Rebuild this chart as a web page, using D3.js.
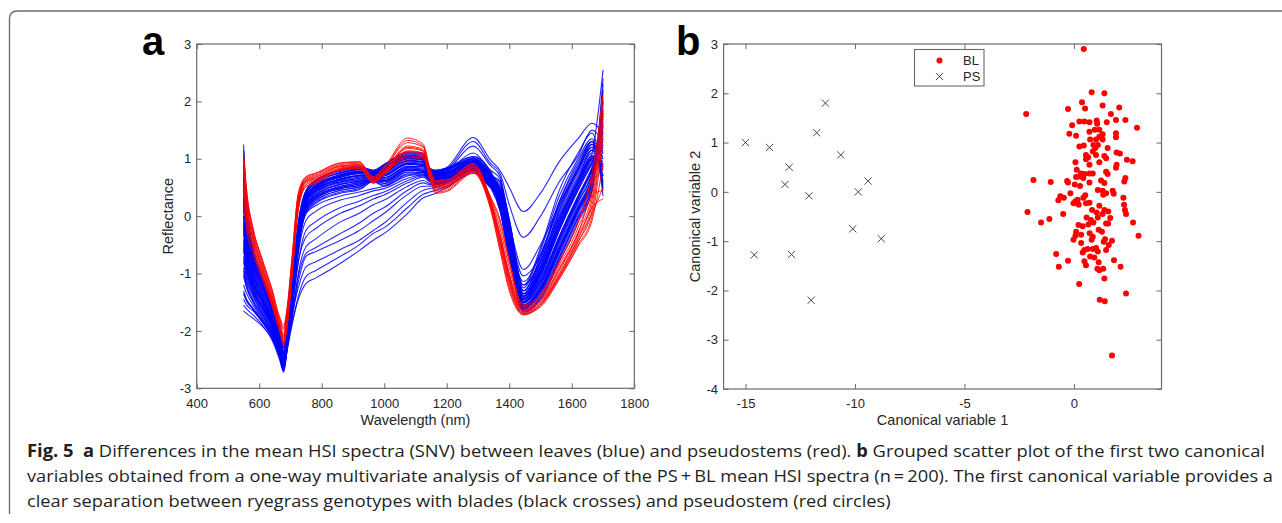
<!DOCTYPE html>
<html><head><meta charset="utf-8">
<script src="https://cdn.jsdelivr.net/npm/d3@7"></script>
<style>
html,body{margin:0;padding:0;background:#fff;}
svg{display:block;}
</style></head>
<body>
<svg id="fig" width="1282" height="523"></svg>
<script>
// ---------------- DATA ----------------
const wavelengths = [550,560,580,610,640,665,678,690,705,725,750,780,860,920,965,1000,1075,1125,1145,1165,1200,1285,1340,1370,1400,1445,1500,1560,1620,1665,1700];

// leaves (blue) SNV spectra
const blueSpectra = [
 [1.25,0.25,-0.55,-1.05,-1.45,-1.95,-2.2,-1.8,-1.15,-0.1, 0.45,0.62,0.8,0.86,0.8,0.9,1.1,1.08,0.82,0.78, 0.82,1.02,0.78,0.45,-0.3,-1.6,-1.3,-0.6,0.1,0.6, 1.6],
 [0.9,0.05,-0.7,-1.15,-1.55,-2.05,-2.3,-1.9,-1.25,-0.2, 0.4,0.57,0.75,0.81,0.77,0.86,1.06,1.04,0.8,0.74, 0.77,0.97,0.72,0.35,-0.45,-1.65,-1.4,-0.75,-0.05,0.45, 2.2],
 [0.6,-0.15,-0.8,-1.25,-1.6,-2.1,-2.38,-1.95,-1.3,-0.25, 0.35,0.52,0.7,0.76,0.75,0.82,1.02,1.0,0.78,0.7, 0.72,0.92,0.66,0.3,-0.5,-1.55,-1.25,-0.5,0.2,0.7, 1.9],
 [0.3,-0.35,-0.95,-1.35,-1.7,-2.15,-2.42,-2.0,-1.35,-0.3, 0.3,0.47,0.65,0.71,0.72,0.77,0.97,0.95,0.76,0.72, 0.76,0.96,0.7,0.4,-0.35,-1.5,-1.1,-0.35,0.35,0.85, 1.5],
 [0.0,-0.55,-1.1,-1.45,-1.8,-2.2,-2.48,-2.05,-1.4,-0.35, 0.25,0.42,0.6,0.66,0.7,0.72,0.92,0.9,0.72,0.65, 0.68,0.87,0.6,0.25,-0.55,-1.45,-1.0,-0.2,0.5,0.95, 1.2],
 [-0.3,-0.75,-1.2,-1.5,-1.85,-2.25,-2.52,-2.1,-1.45,-0.4, 0.2,0.37,0.55,0.61,0.67,0.67,0.87,0.86,0.7,0.68, 0.72,0.92,0.66,0.5,-0.2,-1.4,-0.9,-0.05,0.65,1.05, 1.0],
 [-0.6,-0.95,-1.3,-1.6,-1.9,-2.3,-2.56,-2.15,-1.5,-0.45, 0.15,0.32,0.5,0.56,0.65,0.62,0.82,0.8,0.66,0.62, 0.64,0.84,0.55,0.3,-0.4,-1.35,-0.85,0.05,0.75,1.15, 0.7],
 [-0.9,-1.15,-1.4,-1.7,-2.0,-2.35,-2.6,-2.2,-1.55,-0.5, 0.1,0.27,0.45,0.51,0.62,0.57,0.77,0.76,0.64,0.6, 0.62,0.82,0.52,0.2,-0.6,-1.3,-0.75,0.2,0.85,1.25, 0.5],
 [-1.2,-1.35,-1.55,-1.8,-2.05,-2.4,-2.65,-2.25,-1.6,-0.55, 0.05,0.22,0.4,0.46,0.6,0.52,0.72,0.72,0.62,0.58, 0.6,0.8,0.5,0.45,-0.1,-1.25,-0.6,0.35,1.0,1.35, 0.35],
 [-1.45,-1.55,-1.65,-1.85,-2.1,-2.45,-2.7,-2.3,-1.65,-0.6, 0.1,0.3,0.48,0.54,0.64,0.6,0.8,0.78,0.66,0.64, 0.67,0.88,0.6,0.35,-0.3,-1.2,-0.55,0.45,1.1,1.45, 0.6],
 [-1.65,-1.7,-1.78,-1.92,-2.12,-2.42,-2.62,-2.2,-1.5,-0.4, 0.3,0.47,0.65,0.71,0.72,0.77,0.97,0.95,0.78,0.76, 0.8,1.0,0.72,0.42,-0.4,-1.55,-1.2,-0.45,0.25,0.75, 1.75],
 [0.75,-0.05,-0.75,-1.2,-1.6,-2.1,-2.35,-1.95,-1.3,-0.3, 0.17,0.34,0.52,0.58,0.66,0.64,0.84,0.82,0.68,0.68, 0.72,0.92,0.62,0.15,-0.7,-1.6,-1.3,-0.65,0.05,0.55, 2.0],
 [0.45,-0.25,-0.88,-1.3,-1.65,-2.12,-2.4,-1.98,-1.32,-0.25, 0.43,0.6,0.78,0.84,0.79,0.9,1.1,1.08,0.82,0.8, 0.84,1.04,0.75,0.3,-0.6,-1.68,-1.45,-0.8,-0.1,0.45, 2.3],
 [-0.15,-0.65,-1.15,-1.48,-1.82,-2.22,-2.5,-2.08,-1.42,-0.35, 0.37,0.54,0.72,0.78,0.76,0.84,1.04,1.02,0.78,0.68, 0.7,0.9,0.62,0.2,-0.55,-1.5,-1.15,-0.4,0.3,0.8, 1.35],
 [-0.45,-0.85,-1.25,-1.55,-1.88,-2.28,-2.55,-2.12,-1.45,-0.4, 0.33,0.5,0.68,0.74,0.74,0.8,1.0,0.98,0.76,0.7, 0.72,0.92,0.68,0.55,-0.15,-1.42,-0.95,-0.1,0.6,1.0, 0.9],
 [-0.75,-1.05,-1.35,-1.65,-1.95,-2.32,-2.58,-2.18,-1.5,-0.45, 0.23,0.4,0.58,0.64,0.69,0.7,0.9,0.88,0.72,0.72, 0.76,0.96,0.7,0.6,-0.05,-1.35,-0.8,0.1,0.8,1.2, 0.8],
 [-1.05,-1.25,-1.48,-1.75,-2.02,-2.38,-2.62,-2.2,-1.55,-0.5, 0.27,0.44,0.62,0.68,0.71,0.74,0.94,0.92,0.72,0.64, 0.66,0.86,0.58,0.4,-0.25,-1.3,-0.7,0.25,0.95,1.3, 0.45],
 [1.05,0.15,-0.62,-1.1,-1.5,-2.0,-2.25,-1.85,-1.2,-0.3, 0.1,0.27,0.45,0.51,0.62,0.57,0.77,0.76,0.64,0.62, 0.64,0.84,0.55,0.1,-0.75,-1.62,-1.35,-0.7,0.0,0.5, 2.4],
 [0.15,-0.45,-1.0,-1.4,-1.75,-2.18,-2.45,-2.02,-1.38,-0.4, 0.07,0.24,0.42,0.48,0.61,0.54,0.74,0.74,0.62,0.6, 0.62,0.82,0.5,0.3,-0.45,-1.45,-1.05,-0.25,0.45,0.9, 1.1],
 [-1.55,-1.62,-1.72,-1.9,-2.15,-2.5,-2.72,-2.28,-1.6,-0.5, 0.4,0.57,0.75,0.81,0.77,0.86,1.06,1.04,0.8,0.78, 0.8,1.0,0.7,0.3,-0.55,-1.6,-1.3,-0.55,0.15,0.7, 1.7],
 [1.15,0.2,-0.58,-1.08,-1.48,-1.98,-2.22,-1.82,-1.18,-0.15, 0.37,0.54,0.72,0.78,0.76,0.84,1.04,1.02,0.8,0.76, 0.8,0.98,0.72,0.38,-0.4,-1.58,-1.28,-0.58,0.12,0.62, 1.65],
 [0.35,-0.3,-0.92,-1.33,-1.68,-2.14,-2.42,-2.0,-1.35,-0.32, 0.25,0.42,0.6,0.66,0.7,0.72,0.92,0.9,0.74,0.7, 0.74,0.94,0.66,0.32,-0.45,-1.52,-1.15,-0.38,0.32,0.82, 1.55],
 [-0.25,-0.72,-1.18,-1.5,-1.84,-2.24,-2.5,-2.08,-1.42,-0.35, 0.41,0.58,0.76,0.82,0.78,0.88,1.08,1.06,0.8,0.78, 0.82,1.0,0.72,0.28,-0.55,-1.62,-1.35,-0.62,0.08,0.6, 1.85],
 [-0.95,-1.2,-1.45,-1.72,-2.02,-2.38,-2.62,-2.2,-1.52,-0.45, 0.33,0.5,0.68,0.74,0.74,0.8,1.0,0.98,0.75,0.67, 0.69,0.89,0.6,0.35,-0.3,-1.4,-0.95,-0.12,0.6,1.02, 1.05],
 [0.65,-0.1,-0.78,-1.22,-1.6,-2.08,-2.36,-1.96,-1.32,-0.32, 0.2,0.37,0.55,0.61,0.67,0.67,0.87,0.86,0.7,0.66, 0.68,0.88,0.6,0.22,-0.6,-1.58,-1.25,-0.55,0.15,0.65, 1.8],
 [-0.55,-0.92,-1.28,-1.58,-1.9,-2.3,-2.56,-2.14,-1.48,-0.42, 0.29,0.46,0.64,0.7,0.72,0.76,0.96,0.94,0.75,0.73, 0.75,0.95,0.68,0.42,-0.35,-1.48,-1.05,-0.25,0.45,0.92, 1.25],
 [-1.35,-1.48,-1.62,-1.84,-2.1,-2.45,-2.68,-2.26,-1.58,-0.5, 0.35,0.52,0.7,0.76,0.75,0.82,1.02,1.0,0.77,0.75, 0.77,0.97,0.7,0.48,-0.25,-1.45,-1.0,-0.18,0.55,1.0, 1.15],
 [0.0,-0.58,-1.12,-1.46,-1.8,-2.2,-2.47,-2.05,-1.4,-0.38, 0.15,0.32,0.5,0.56,0.64,0.62,0.82,0.8,0.68,0.7, 0.72,0.92,0.64,0.46,-0.25,-1.38,-0.88,0.0,0.7,1.1, 0.85],
 [0.95,0.1,-0.68,-1.15,-1.55,-2.05,-2.28,-1.88,-1.22,-0.12, 0.45,0.62,0.8,0.86,0.8,0.9,1.12,1.1,0.84,0.8, 0.84,1.04,0.76,0.32,-0.55,-1.66,-1.42,-0.72,-0.02,0.5, 2.05],
 [-0.4,-0.82,-1.24,-1.55,-1.88,-2.28,-2.54,-2.12,-1.46,-0.42, 0.13,0.3,0.48,0.54,0.63,0.6,0.8,0.78,0.66,0.64, 0.66,0.86,0.56,0.28,-0.5,-1.44,-1.0,-0.2,0.5,0.98, 1.0],
 [0.5,-0.2,-0.85,-1.3,-1.65,-2.1,-2.4,-2.05,-1.5,-0.55, 0.05,0.18,0.35,0.42,0.48,0.52,0.7,0.76,0.66,0.6, 0.64,0.88,0.6,0.3,-0.5,-1.5,-1.15,-0.4,0.3,0.8, 1.25],
 [-0.2,-0.7,-1.18,-1.5,-1.85,-2.25,-2.52,-2.15,-1.6,-0.65, -0.07,0.08,0.28,0.36,0.44,0.48,0.66,0.72,0.64,0.58, 0.62,0.85,0.55,0.2,-0.6,-1.55,-1.2,-0.45,0.25,0.75, 1.45],
 [-0.8,-1.1,-1.38,-1.68,-1.98,-2.35,-2.6,-2.2,-1.65,-0.8, -0.24,-0.1,0.15,0.26,0.36,0.42,0.62,0.7,0.62,0.58, 0.62,0.84,0.58,0.45,-0.2,-1.4,-0.95,-0.15,0.55,1.0, 0.85],
 [0.9,0.1,-0.65,-1.15,-1.55,-2.05,-2.35,-2.0,-1.55,-0.8, -0.36,-0.22,0.05,0.18,0.3,0.37,0.58,0.68,0.6,0.57, 0.6,0.82,0.5,0.1,-0.7,-1.6,-1.3,-0.6,0.1,0.6, 1.8],
 [-1.3,-1.45,-1.6,-1.82,-2.08,-2.42,-2.66,-2.3,-1.8,-1.0, -0.53,-0.4,-0.1,0.05,0.2,0.28,0.52,0.62,0.57,0.55, 0.6,0.8,0.55,0.5,-0.05,-1.3,-0.7,0.25,0.9,1.3, 0.55],
 [0.1,-0.5,-1.05,-1.42,-1.78,-2.2,-2.5,-2.15,-1.7,-1.05, -0.65,-0.55,-0.3,-0.12,0.05,0.15,0.45,0.58,0.55,0.55, 0.6,0.86,0.62,0.35,-0.4,-1.45,-1.0,-0.2,0.5,0.95, 1.15],
 [-0.5,-0.9,-1.3,-1.6,-1.92,-2.3,-2.58,-2.22,-1.78,-1.15, -0.7,-0.62,-0.42,-0.25,-0.08,0.05,0.38,0.52,0.52,0.52, 0.58,0.84,0.6,0.4,-0.3,-1.4,-0.9,-0.1,0.6,1.05, 0.95],
 [1.1,0.2,-0.6,-1.1,-1.5,-2.0,-2.3,-2.0,-1.7,-1.25, -0.88,-0.8,-0.58,-0.42,-0.25,-0.12,0.25,0.45,0.48,0.5, 0.56,0.8,0.52,0.15,-0.65,-1.58,-1.25,-0.55,0.15,0.65, 2.0],
 [-1.0,-1.25,-1.5,-1.78,-2.05,-2.4,-2.65,-2.32,-1.9,-1.4, -1.05,-0.95,-0.7,-0.5,-0.3,-0.2,0.15,0.38,0.42,0.45, 0.52,0.78,0.55,0.42,-0.15,-1.35,-0.8,0.1,0.8,1.2, 0.7],
 [0.3,-0.35,-0.98,-1.38,-1.72,-2.15,-2.45,-2.15,-1.85,-1.45, -1.17,-1.08,-0.82,-0.6,-0.42,-0.3,0.05,0.32,0.36,0.4, 0.5,0.75,0.5,0.25,-0.5,-1.5,-1.1,-0.35,0.35,0.85, 1.3],
 [0.7,0.0,-0.7,-1.2,-1.6,-2.05,-2.35,-1.95,-1.3,-0.3, 0.3,0.48,0.68,0.75,0.72,0.8,1.0,0.98,0.78,0.78, 0.85,1.37,0.98,0.8,0.5,0.08,0.4,0.95,1.35,1.62, 1.45],
 [-0.1,-0.62,-1.12,-1.48,-1.82,-2.22,-2.5,-2.08,-1.42,-0.38, 0.28,0.45,0.63,0.7,0.7,0.76,0.96,0.94,0.76,0.76, 0.82,1.3,0.92,0.75,0.2,-0.37,0.0,0.6,1.05,1.5, 1.3],
 [-0.7,-1.0,-1.32,-1.62,-1.95,-2.32,-2.58,-2.18,-1.5,-0.45, 0.22,0.38,0.56,0.63,0.67,0.7,0.9,0.88,0.72,0.74, 0.8,1.22,0.88,0.7,-0.1,-0.93,-0.5,0.2,0.8,1.25, 1.0],
 [0.2,-0.42,-1.02,-1.42,-1.76,-2.18,-2.46,-2.04,-1.38,-0.35, 0.32,0.5,0.7,0.76,0.74,0.82,1.02,1.0,0.78,0.72, 0.78,1.1,0.8,0.65,-0.2,-1.04,-0.7,0.0,0.65,1.15, 0.9],
 [-1.35,-1.48,-1.62,-1.84,-2.1,-2.45,-2.68,-2.25,-1.58,-0.5, 0.18,0.35,0.52,0.59,0.65,0.66,0.85,0.84,0.7,0.66, 0.7,0.95,0.72,0.6,-0.3,-1.14,-0.65,0.15,0.85,1.3, 1.1],
 [0.55,-0.15,-0.82,-1.25,-1.62,-2.08,-2.38,-1.98,-1.32,-0.3, 0.36,0.53,0.72,0.78,0.75,0.84,1.04,1.02,0.8,0.7, 0.74,1.0,0.7,0.5,-0.35,-1.2,-0.8,-0.05,0.6,1.1, 2.55]
];

// pseudostems (red) SNV spectra
const redSpectra = [
 [1.1,0.45,-0.2,-0.75,-1.25,-1.75,-1.9,-1.55,-0.7,0.4, 0.69,0.75,0.93,0.95,0.69,0.86,1.36,1.25,0.85,0.6, 0.62,0.9,0.32,-0.1,-0.8,-1.55,-1.35,-0.78,-0.1,0.75, 2.1],
 [1.0,0.38,-0.25,-0.8,-1.3,-1.8,-1.98,-1.62,-0.78,0.35, 0.66,0.72,0.9,0.92,0.67,0.83,1.28,1.2,0.82,0.58, 0.6,0.88,0.3,-0.2,-0.9,-1.6,-1.4,-0.85,-0.2,0.55, 2.14],
 [0.95,0.32,-0.3,-0.85,-1.35,-1.85,-2.05,-1.7,-0.85,0.3, 0.64,0.7,0.88,0.9,0.65,0.8,1.22,1.16,0.78,0.55, 0.58,0.86,0.28,-0.3,-1.0,-1.63,-1.45,-0.9,-0.28,0.4, 1.95],
 [0.9,0.28,-0.33,-0.88,-1.38,-1.88,-2.1,-1.75,-0.9,0.25, 0.62,0.67,0.86,0.88,0.63,0.78,1.18,1.13,0.76,0.52, 0.55,0.84,0.25,-0.35,-1.05,-1.65,-1.48,-0.95,-0.33,0.3, 1.85],
 [0.85,0.22,-0.38,-0.92,-1.42,-1.9,-2.15,-1.8,-0.95,0.2, 0.6,0.65,0.84,0.87,0.62,0.77,1.14,1.1,0.74,0.5, 0.53,0.82,0.22,-0.4,-1.1,-1.67,-1.5,-1.0,-0.38,0.2, 1.75],
 [0.75,0.15,-0.42,-0.95,-1.45,-1.92,-2.2,-1.85,-1.0,0.15, 0.57,0.62,0.82,0.85,0.6,0.75,1.1,1.08,0.72,0.47, 0.5,0.8,0.2,-0.45,-1.15,-1.7,-1.53,-1.05,-0.45,0.1, 1.6],
 [0.6,0.05,-0.48,-1.0,-1.5,-1.95,-2.25,-1.9,-1.05,0.1, 0.55,0.6,0.8,0.83,0.58,0.73,1.05,1.04,0.7,0.45, 0.48,0.78,0.18,-0.5,-1.2,-1.72,-1.56,-1.08,-0.5,0.0, 1.4],
 [0.4,-0.1,-0.55,-1.05,-1.52,-1.97,-2.22,-1.88,-1.02,0.12, 0.52,0.58,0.8,0.84,0.57,0.74,1.02,1.02,0.68,0.42, 0.45,0.76,0.15,-0.55,-1.25,-1.7,-1.58,-1.1,-0.53,-0.07, 0.9],
 [0.2,-0.25,-0.65,-1.1,-1.55,-2.0,-2.18,-1.82,-0.98,0.18, 0.51,0.57,0.81,0.85,0.59,0.76,0.98,1.0,0.66,0.4, 0.43,0.75,0.12,-0.6,-1.3,-1.72,-1.55,-1.05,-0.45,0.05, 0.5],
 [1.05,0.4,-0.22,-0.78,-1.28,-1.78,-1.95,-1.6,-0.75,0.38, 0.68,0.74,0.92,0.94,0.68,0.84,1.32,1.22,0.84,0.62, 0.63,0.92,0.34,-0.05,-0.76,-1.58,-1.38,-0.8,-0.12,0.65, 1.2],
 [0.8,0.2,-0.4,-0.93,-1.43,-1.9,-2.12,-1.78,-0.92,0.22, 0.6,0.64,0.83,0.86,0.61,0.76,1.12,1.09,0.73,0.49, 0.52,0.8,0.2,-0.42,-1.12,-1.69,-1.52,-1.02,-0.4,0.15, 0.3],
 [0.5,-0.05,-0.52,-1.02,-1.5,-1.95,-2.08,-1.72,-0.88,0.28, 0.63,0.68,0.87,0.89,0.64,0.79,1.2,1.14,0.77,0.53, 0.56,0.85,0.26,-0.32,-1.02,-1.64,-1.47,-0.93,-0.3,0.35, 0.45]
];

// panel b: PS (black crosses)
const psCv1 = [-15.0,-13.9,-13.0,-13.2,-11.35,-11.75,-12.1,-10.65,-9.4,-9.85,-10.1,-8.8,-14.6,-12.9,-12.0];
const psCv2 = [1.0,0.9,0.5,0.15,1.8,1.2,-0.08,0.75,0.22,0.0,-0.75,-0.95,-1.28,-1.27,-2.2];
// panel b: BL (red circles)
const blCv1 = [0.45,0.81,1.39,0.37,1.31,-2.18,-0.27,0.51,1.69,2.07,0.25,0.48,0.71,1.04,1.06,1.50,1.92,2.35,-0.08,2.88,
 -0.21,0.10,0.71,0.95,1.16,1.31,1.92,1.92,0.74,1.01,1.16,1.31,0.89,1.09,0.25,0.45,0.98,1.54,0.86,1.01,
 1.95,2.10,0.55,0.65,0.55,1.39,1.47,1.16,0.07,2.42,2.68,1.95,1.92,0.71,0.13,0.33,0.48,0.71,0.86,0.25,
 0.10,0.43,1.47,1.54,1.24,1.39,-0.31,-0.27,0.04,0.28,0.71,2.35,2.30,-1.85,-1.06,1.09,1.31,1.34,1.47,1.77,
 1.82,-0.16,-0.62,-0.46,-0.71,0.52,0.43,0.17,0.07,-0.02,0.22,0.55,0.71,2.26,2.29,2.33,2.38,1.16,1.39,1.57,
 1.31,0.83,1.04,-2.12,-0.49,-1.50,-1.12,0.58,0.78,1.09,1.66,1.47,2.70,0.21,0.40,0.66,0.89,1.13,1.28,1.56,
 2.95,0.10,0.07,0.33,0.72,0.86,-0.02,0.33,0.81,1.42,1.36,1.74,1.59,1.47,0.48,0.63,0.86,1.01,1.09,0.40,
 -0.81,0.74,0.93,-0.27,0.48,0.55,1.13,1.83,-0.69,1.07,1.16,1.34,2.13,1.39,0.24,2.38,1.18,1.41,1.74];
const blCv2 = [2.90,2.02,2.00,1.82,1.75,1.58,1.68,1.69,1.58,1.71,1.43,1.43,1.41,1.45,1.38,1.41,1.46,1.46,1.35,1.30,
 1.18,1.14,1.22,1.26,1.26,1.17,1.19,1.11,1.06,1.06,1.12,1.06,0.95,0.95,0.92,0.94,0.89,0.89,0.82,0.75,
 0.80,0.78,0.75,0.70,0.66,0.73,0.68,0.60,0.60,0.65,0.62,0.55,0.49,0.55,0.45,0.37,0.36,0.37,0.37,0.31,
 0.30,0.28,0.41,0.36,0.23,0.18,0.22,0.19,0.15,0.12,0.19,0.28,0.21,0.24,0.20,0.04,0.02,-0.06,-0.03,0.02,
 -0.04,-0.03,-0.09,-0.12,-0.17,-0.07,-0.12,-0.16,-0.19,-0.23,-0.26,-0.23,-0.22,-0.12,-0.26,-0.37,-0.45,-0.28,-0.37,-0.40,
 -0.45,-0.37,-0.42,-0.41,-0.45,-0.62,-0.55,-0.52,-0.57,-0.52,-0.53,-0.64,-0.62,-0.67,-0.70,-0.66,-0.62,-0.77,-0.81,-0.64,
 -0.89,-0.81,-0.89,-0.87,-0.84,-0.91,-0.97,-1.04,-0.97,-0.96,-1.01,-0.99,-1.08,-1.18,-1.18,-1.16,-1.16,-1.14,-1.21,-1.23,
 -1.26,-1.31,-1.33,-1.40,-1.41,-1.49,-1.43,-1.39,-1.52,-1.56,-1.59,-1.56,-1.52,-1.76,-1.87,-2.06,-2.19,-2.22,-3.32];

const aXTicks = [400,600,800,1000,1200,1400,1600,1800];
const aYTicks = [-3,-2,-1,0,1,2,3];
const bXTicks = [-15,-10,-5,0];
const bYTicks = [-4,-3,-2,-1,0,1,2,3];
const legendLabels = ["BL","PS"];
const captionLines = [
 [["Fig. 5",true],["  ",false],["a",true],[" Differences in the mean HSI spectra (SNV) between leaves (blue) and pseudostems (red). ",false],["b",true],[" Grouped scatter plot of the first two canonical",false]],
 [["variables obtained from a one-way multivariate analysis of variance of the PS\u2009+\u2009BL mean HSI spectra (n\u2009=\u2009200). The first canonical variable provides a",false]],
 [["clear separation between ryegrass genotypes with blades (black crosses) and pseudostem (red circles)",false]]
];

// ---------------- DRAW ----------------
const svg = d3.select("#fig");
const TXT = "#262626", BOX = "#6a6a6a";
const tickFont = "'Liberation Sans', Arial, sans-serif";
const fmt = d => String(d);

// frame
svg.append("path")
  .attr("d","M9.5,514 V19 Q9.5,11 17.5,11 H1282")
  .attr("fill","none").attr("stroke","#6e6e6e").attr("stroke-width",1.4);

function makeAxes(g, x, y, xt, yt, x0, x1, y0, y1) {
  const axis = (a, tr, keep) => {
    const gg = g.append("g").attr("transform", tr).call(a);
    gg.select(".domain").remove();
    gg.selectAll("line").attr("stroke", BOX).attr("stroke-width", 1);
    gg.selectAll("text").attr("fill", TXT).style("font-family", tickFont).style("font-size","13px");
    if (!keep) gg.selectAll("text").remove();
    return gg;
  };
  axis(d3.axisBottom(x).tickValues(xt).tickSize(-5).tickPadding(10).tickFormat(fmt), `translate(0,${y1})`, true);
  axis(d3.axisTop(x).tickValues(xt).tickSize(-5), `translate(0,${y0})`, false);
  axis(d3.axisLeft(y).tickValues(yt).tickSize(-5).tickPadding(5.5).tickFormat(fmt), `translate(${x0},0)`, true);
  axis(d3.axisRight(y).tickValues(yt).tickSize(-5), `translate(${x1},0)`, false);
  g.append("rect").attr("x", x0).attr("y", y0).attr("width", x1 - x0).attr("height", y1 - y0)
    .attr("fill","none").attr("stroke", BOX).attr("stroke-width", 1.2);
}

// ---- panel a ----
const A = {x0:196.7, x1:634.3, y0:44, y1:388.3};
const ax = d3.scaleLinear().domain([400,1800]).range([A.x0, A.x1]);
const ay = d3.scaleLinear().domain([-3,3]).range([A.y1, A.y0]);
const ga = svg.append("g");
const line = d3.line().x(d => ax(d[0])).y(d => ay(d[1])).curve(d3.curveMonotoneX);
const gLines = ga.append("g").attr("fill","none");
gLines.selectAll("path.blue").data(blueSpectra).join("path").attr("class","blue")
  .attr("d", r => line(d3.zip(wavelengths, r))).attr("stroke","#0000ff").attr("stroke-width",1.1).attr("stroke-opacity",0.85);
gLines.selectAll("path.red").data(redSpectra).join("path").attr("class","red")
  .attr("d", r => line(d3.zip(wavelengths, r))).attr("stroke","#ff0000").attr("stroke-width",1).attr("stroke-opacity",0.85);
makeAxes(ga, ax, ay, aXTicks, aYTicks, A.x0, A.x1, A.y0, A.y1);
ga.append("text").attr("x",(A.x0+A.x1)/2).attr("y",424.5).attr("text-anchor","middle")
  .attr("fill",TXT).style("font-family",tickFont).style("font-size","14.5px").text("Wavelength (nm)");
ga.append("text").attr("transform",`translate(173,${(A.y0+A.y1)/2}) rotate(-90)`).attr("text-anchor","middle")
  .attr("fill",TXT).style("font-family",tickFont).style("font-size","14.5px").text("Reflectance");
ga.append("text").attr("x",142).attr("y",55).attr("fill","#000")
  .style("font-family",tickFont).style("font-weight","bold").style("font-size","40px").text("a");

// ---- panel b ----
const B = {x0:723.6, x1:1161.5, y0:44, y1:389};
const bx = d3.scaleLinear().domain([-16,4]).range([B.x0, B.x1]);
const by = d3.scaleLinear().domain([-4,3]).range([B.y1, B.y0]);
const gb = svg.append("g");
const crossPath = s => `M${-s},${-s}L${s},${s}M${-s},${s}L${s},${-s}`;
gb.append("g").selectAll("circle").data(d3.zip(blCv1, blCv2)).join("circle")
  .attr("cx", d => bx(d[0])).attr("cy", d => by(d[1])).attr("r", 3).attr("fill","#ff0000");
gb.append("g").selectAll("path").data(d3.zip(psCv1, psCv2)).join("path")
  .attr("transform", d => `translate(${bx(d[0])},${by(d[1])})`).attr("d", crossPath(3.6))
  .attr("stroke","#333").attr("stroke-width",0.9).attr("fill","none");
makeAxes(gb, bx, by, bXTicks, bYTicks, B.x0, B.x1, B.y0, B.y1);
gb.append("text").attr("x",(B.x0+B.x1)/2).attr("y",424.5).attr("text-anchor","middle")
  .attr("fill",TXT).style("font-family",tickFont).style("font-size","14.5px").text("Canonical variable 1");
gb.append("text").attr("transform",`translate(699.5,${(B.y0+B.y1)/2}) rotate(-90)`).attr("text-anchor","middle")
  .attr("fill",TXT).style("font-family",tickFont).style("font-size","14.5px").text("Canonical variable 2");
gb.append("text").attr("x",676).attr("y",55).attr("fill","#000")
  .style("font-family",tickFont).style("font-weight","bold").style("font-size","40px").text("b");

// legend
const lg = gb.append("g");
lg.append("rect").attr("x",914.5).attr("y",49.5).attr("width",69.5).attr("height",36.5)
  .attr("fill","#fff").attr("stroke",BOX).attr("stroke-width",1.1);
lg.append("circle").attr("cx",939.5).attr("cy",60.5).attr("r",3).attr("fill","#ff0000");
lg.append("path").attr("transform","translate(939.5,76.5)").attr("d",crossPath(3.6))
  .attr("stroke","#333").attr("stroke-width",0.9);
lg.selectAll("text").data(legendLabels).join("text")
  .attr("x",963).attr("y",(d,i) => 65 + i*16).attr("fill",TXT)
  .style("font-family",tickFont).style("font-size","13px").text(d => d);

// ---- caption ----
const capFont = "'Open Sans', 'Noto Sans', sans-serif";
const capY = [457, 482, 507];
const capX = 27;
const capNodes = captionLines.map((parts, i) => {
  const t = svg.append("text").attr("x",capX).attr("y",capY[i]).attr("fill","#231f20")
    .style("font-family",capFont).style("font-size","17px").style("white-space","pre");
  parts.forEach(p => t.append("tspan").style("font-weight", p[1] ? "bold" : "normal").text(p[0]));
  return t;
});
const nat = capNodes.map(n => n.node().getComputedTextLength());
const targets = [1265 - capX, 1273 - capX, null];
targets[2] = nat[2] * (targets[1] / nat[1]);
capNodes.forEach((n, i) => n.attr("textLength", targets[i]).attr("lengthAdjust","spacingAndGlyphs"));
</script>
</body></html>
